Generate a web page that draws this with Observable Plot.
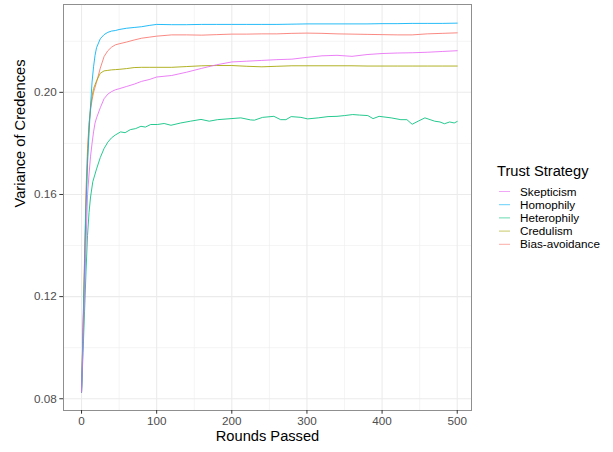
<!DOCTYPE html>
<html>
<head>
<meta charset="utf-8">
<script src="https://cdn.jsdelivr.net/npm/d3@7"></script>
<script src="https://cdn.jsdelivr.net/npm/@observablehq/plot@0.6"></script>
<style>
  html, body { margin: 0; padding: 0; background: white; }
  #wrap { position: relative; width: 613px; height: 452px; }
  #legend { position: absolute; left: 0; top: 0; }
</style>
</head>
<body>
<div id="wrap"></div>
<script>
// ---- data ----
const seriesNames = ["Skepticism", "Homophily", "Heterophily", "Credulism", "Bias-avoidance"];
const seriesColors = ["#E76BF3", "#00B0F6", "#00BF7D", "#A3A500", "#F8766D"];

const smoothRounds = [0,2,4,6,8,10,12,14,16,18,20,25,30,35,40,45,50,60,70,80,90,100,120,140,160,180,200,220,240,260,280,300,320,340,360,380,400,420,440,460,480,500];

const skepticism = [0.0826,0.102,0.121,0.141,0.160,0.168,0.175,0.180,0.1845,0.188,0.190,0.1940,0.1975,0.1993,0.2003,0.2010,0.2014,0.2023,0.2032,0.2043,0.2050,0.2060,0.2066,0.2079,0.2094,0.2108,0.2119,0.2122,0.2125,0.2128,0.2130,0.2137,0.2143,0.2145,0.2141,0.2148,0.2152,0.2154,0.2155,0.2157,0.2160,0.2163];

const homophily = [0.0826,0.106,0.130,0.155,0.172,0.184,0.195,0.204,0.210,0.2145,0.2175,0.2210,0.2226,0.2235,0.2240,0.2242,0.2246,0.2251,0.2254,0.2257,0.2262,0.2266,0.2265,0.2265,0.2266,0.2266,0.2266,0.2266,0.2266,0.2266,0.2267,0.2268,0.2268,0.2268,0.2268,0.2268,0.2269,0.2269,0.2270,0.2270,0.2270,0.2271];

const credulism = [0.0826,0.108,0.133,0.157,0.175,0.187,0.194,0.1985,0.2015,0.2030,0.2045,0.2075,0.2084,0.2086,0.2088,0.2089,0.2090,0.2093,0.2097,0.2098,0.2098,0.2098,0.2098,0.2101,0.2104,0.2105,0.2105,0.2102,0.2100,0.2102,0.2104,0.2104,0.2104,0.2104,0.2104,0.2103,0.2103,0.2103,0.2103,0.2103,0.2103,0.2103];

const biasAvoidance = [0.0826,0.108,0.135,0.162,0.178,0.188,0.193,0.197,0.2000,0.2020,0.2040,0.2095,0.2140,0.2163,0.2177,0.2186,0.2190,0.2197,0.2205,0.2212,0.2216,0.2220,0.2225,0.2225,0.2224,0.2226,0.2228,0.2228,0.2229,0.2229,0.2231,0.2232,0.2231,0.2229,0.2228,0.2227,0.2226,0.2225,0.2225,0.2229,0.2231,0.2233];

const heteroRounds = [0,2,4,6,8,10,12,15,20,25,30,35,40,45,52,58,65,72,79,85,92,101,110,119,132,145,159,170,181,199,212,225,230,241,256,265,272,279,292,301,315,328,340,350,361,370,381,388,396,412,425,433,440,448,457,465,470,477,483,490,496,500];
const heterophily = [0.0826,0.098,0.114,0.130,0.144,0.153,0.159,0.165,0.170,0.1745,0.178,0.1805,0.1822,0.1833,0.1845,0.1842,0.1854,0.1858,0.1867,0.1864,0.1874,0.1874,0.1878,0.1871,0.1880,0.1887,0.1894,0.1887,0.1893,0.1897,0.1900,0.1892,0.1891,0.1902,0.1906,0.1893,0.1893,0.1905,0.1902,0.1896,0.1900,0.1905,0.1906,0.1909,0.1913,0.1911,0.1909,0.1897,0.1906,0.1900,0.1893,0.1893,0.1875,0.1887,0.1900,0.1892,0.1887,0.1884,0.1877,0.1884,0.1880,0.1886];

const xMajor = [0, 100, 200, 300, 400, 500];
const xMinor = [50, 150, 250, 350, 450];
const yMajor = [0.08, 0.12, 0.16, 0.20];
const yMinor = [0.10, 0.14, 0.18, 0.22];

const xTitle = "Rounds Passed";
const yTitle = "Variance of Credences";
const legendTitle = "Trust Strategy";

// ---- build long table ----
const data = [];
function add(name, rounds, values) {
  rounds.forEach((r, i) => data.push({series: name, round: r, value: values[i]}));
}
add("Bias-avoidance", smoothRounds, biasAvoidance);
add("Credulism", smoothRounds, credulism);
add("Heterophily", heteroRounds, heterophily);
add("Homophily", smoothRounds, homophily);
add("Skepticism", smoothRounds, skepticism);

const font = "'Liberation Sans', Arial, Helvetica, sans-serif";

const chart = Plot.plot({
  width: 613,
  height: 452,
  marginLeft: 63,
  marginRight: 142,
  marginTop: 4,
  marginBottom: 42,
  style: {fontFamily: font, background: "white"},
  x: {domain: [-24, 519], label: null},
  y: {domain: [0.0754, 0.2344], label: null},
  color: {domain: seriesNames, range: seriesColors},
  marks: [
    Plot.ruleX(xMinor, {stroke: "#EBEBEB", strokeWidth: 0.55}),
    Plot.ruleY(yMinor, {stroke: "#EBEBEB", strokeWidth: 0.55}),
    Plot.ruleX(xMajor, {stroke: "#EBEBEB", strokeWidth: 1.07}),
    Plot.ruleY(yMajor, {stroke: "#EBEBEB", strokeWidth: 1.07}),
    Plot.lineY(data, {x: "round", y: "value", z: "series", stroke: "series", strokeWidth: 1, strokeOpacity: 0.85}),
    Plot.frame({stroke: "#8f8f8f", strokeWidth: 1}),
    Plot.axisX(xMajor, {tickSize: 3.7, tickPadding: 2.5, fontSize: 11.7, fill: "#4D4D4D", stroke: "#333", label: null}),
    Plot.axisY(yMajor, {tickSize: 3.7, tickPadding: 3, fontSize: 11.7, fill: "#4D4D4D", stroke: "#333", label: null, tickFormat: d3.format(".2f")}),
    Plot.text([xTitle], {frameAnchor: "bottom", dy: 30, fontSize: 14.67, fill: "black"}),
    Plot.text([yTitle], {frameAnchor: "left", dx: -43, rotate: -90, fontSize: 14.67, fill: "black"})
  ]
});

const wrap = document.getElementById("wrap");
wrap.appendChild(chart);

// ---- legend ----
const lg = d3.select(wrap).append("svg")
  .attr("id", "legend")
  .attr("width", 613).attr("height", 452)
  .style("font-family", font);
lg.append("text").attr("x", 497).attr("y", 176).attr("font-size", 14.67).attr("fill", "black").text(legendTitle);
seriesNames.forEach((name, i) => {
  const cy = 191.5 + i * 13.2;
  lg.append("line").attr("x1", 499).attr("x2", 510).attr("y1", cy).attr("y2", cy)
    .attr("stroke", seriesColors[i]).attr("stroke-width", 1).attr("stroke-opacity", 0.6);
  lg.append("text").attr("x", 520).attr("y", cy).attr("dy", "0.35em")
    .attr("font-size", 11.7).attr("fill", "black").text(name);
});
</script>
</body>
</html>
